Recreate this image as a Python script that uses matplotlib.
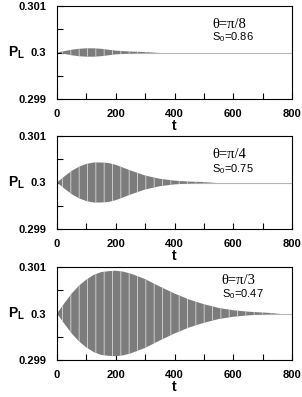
import numpy as np
import matplotlib
matplotlib.use('Agg')
import matplotlib.pyplot as plt

# envelope (half-amplitude of the oscillation around P_L = 0.3)
t1 = [0, 25, 50, 75, 100, 125, 150, 175, 200, 250, 300, 350]
a1 = [0, 0.00003, 0.00006, 0.00008, 0.00009, 0.00009, 0.00008, 0.00006,
      0.00004, 0.00002, 0.00001, 0]

t2 = [0, 25, 50, 75, 100, 125, 150, 175, 200, 250, 300, 350, 400, 450, 500, 540]
a2 = [0, 0.00013, 0.00025, 0.00034, 0.0004, 0.00043, 0.00043, 0.00042,
      0.00038, 0.00026, 0.00015, 0.00008, 0.00004, 0.00002, 0.00001, 0]

t3 = [0, 25, 50, 75, 100, 125, 150, 175, 200, 225, 250, 300, 350, 400, 450,
      500, 550, 600, 650, 700, 760]
a3 = [0, 0.00022, 0.00043, 0.0006, 0.00073, 0.00083, 0.00089, 0.00091,
      0.00092, 0.0009, 0.00086, 0.00074, 0.00058, 0.00043, 0.0003, 0.0002,
      0.00012, 0.00007, 0.00004, 0.00002, 0]

thetas = ['θ=π/8', 'θ=π/4', 'θ=π/3']
s0s = ['0.86', '0.75', '0.47']
p0 = 0.3

# annotation positions (axes fraction)
text_pos = [(0.66, 0.80, 0.67), (0.66, 0.80, 0.645), (0.70, 0.85, 0.71)]

plt.rcParams['font.family'] = ['Liberation Sans', 'DejaVu Sans']
plt.rcParams['hatch.linewidth'] = 0.6

fig = plt.figure(figsize=(3.02, 3.97), dpi=100)
W, H = 302.0, 397.0
tops = [6, 136, 267]
left, right, height = 57, 292, 93

for i, (t, a) in enumerate([(t1, a1), (t2, a2), (t3, a3)]):
    ax = fig.add_axes([left / W, 1 - (tops[i] + height) / H,
                       (right - left) / W, height / H])
    t = np.array(t, dtype=float)
    a = np.array(a)
    ax.plot([0, 800], [p0, p0], color='#b4b4b4', lw=0.8, zorder=1)
    ax.fill_between(t, p0 - a, p0 + a, facecolor='#7c7c7c',
                    edgecolor='#d8d8d8', hatch='||', linewidth=0, zorder=2)
    ax.set_xlim(0, 800)
    ax.set_ylim(0.299, 0.301)
    ax.set_xticks([0, 200, 400, 600, 800])
    ax.set_xticks([100, 300, 500, 700], minor=True)
    ax.set_yticks([0.299, 0.3, 0.301])
    ax.set_yticks([0.2995, 0.3005], minor=True)
    ax.set_yticklabels(['0.299', '0.3', '0.301'])
    ax.tick_params(which='both', direction='in', labelsize=8, width=0.8,
                   length=4)
    ax.tick_params(axis='y', pad=8)
    ax.tick_params(axis='x', pad=7)
    for lab in ax.get_xticklabels() + ax.get_yticklabels():
        lab.set_fontweight('bold')
    for sp in ax.spines.values():
        sp.set_linewidth(0.8)
    ax.set_xlabel('t', fontsize=10, fontweight='bold', labelpad=0)
    ax.set_ylabel(r'P$_\mathregular{L}$', fontsize=10, fontweight='bold',
                  rotation=0, va='center', ha='center')
    ax.yaxis.set_label_coords(-0.172, 0.5)
    tx, ty, sy = text_pos[i]
    ax.text(tx, ty, thetas[i], transform=ax.transAxes, fontsize=10.5,
            family='Liberation Serif', va='center')
    ax.text(tx, sy, r'S$_\mathregular{0}$=' + s0s[i],
            transform=ax.transAxes, fontsize=8, va='center')

fig.savefig('out.png', dpi=100)
